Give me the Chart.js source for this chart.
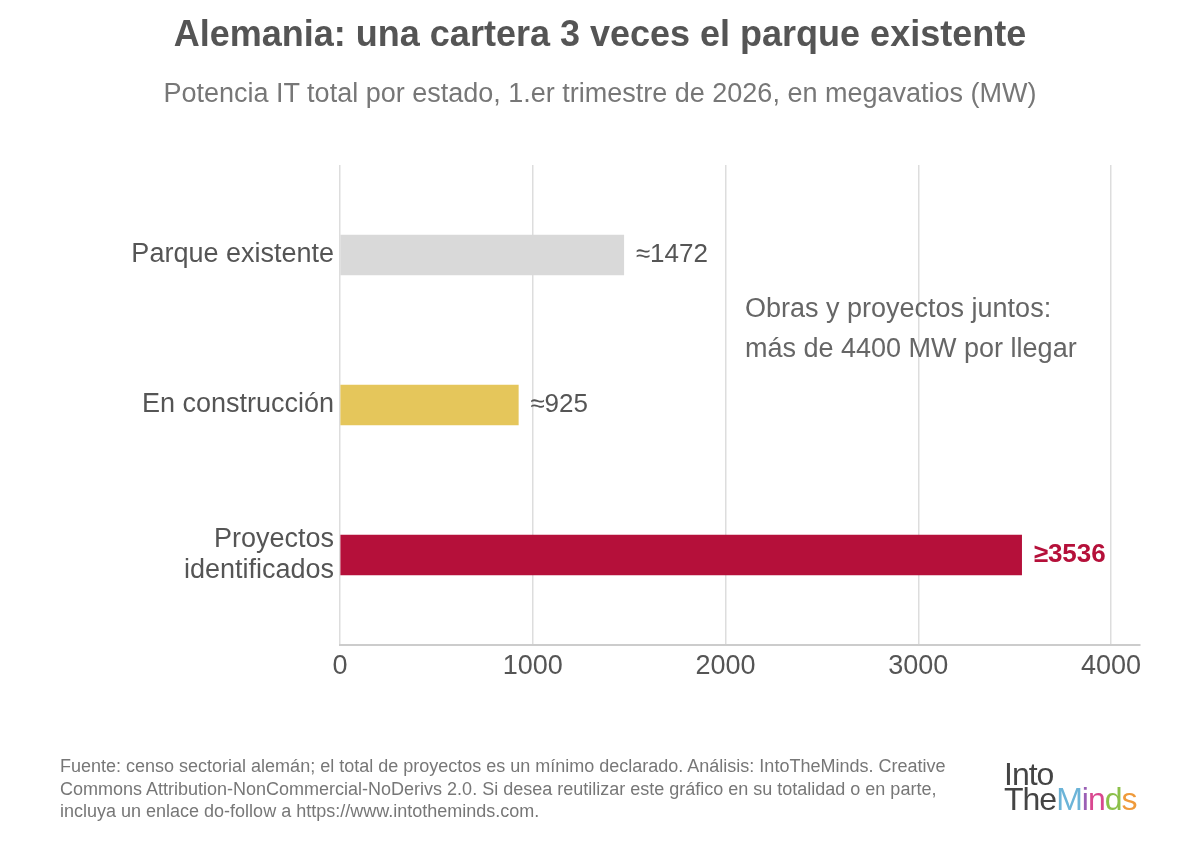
<!DOCTYPE html>
<html lang="es">
<head>
<meta charset="UTF-8">
<title>Alemania: una cartera 3 veces el parque existente</title>
<script src="https://cdn.jsdelivr.net/npm/chart.js@4"></script>
<style>
  body { margin: 0; background: #fff; font-family: "Liberation Sans", Arial, sans-serif; }
  .page { position: relative; width: 1200px; height: 841px; overflow: hidden; }
  .title { position: absolute; top: 13px; left: 0; width: 1200px; text-align: center; font-size: 36px; font-weight: bold; color: #555; }
  .subtitle { position: absolute; top: 78px; left: 0; width: 1200px; text-align: center; font-size: 27px; color: #777; }
  .note { position: absolute; left: 745px; top: 288px; font-size: 27px; line-height: 40px; color: #666; }
  .chart-box { position: absolute; left: 0; top: 0; width: 1200px; height: 841px; }
  .source { position: absolute; left: 60px; top: 755px; width: 895px; font-size: 18px; line-height: 22.5px; color: #777; }
  .logo { position: absolute; left: 1004px; top: 762px; font-size: 32px; line-height: 25px; color: #444; letter-spacing: -1px; }
</style>
</head>
<body>
<div class="page">
  <div class="chart-box"><canvas id="chart"></canvas></div>
  <div class="title">Alemania: una cartera 3 veces el parque existente</div>
  <div class="subtitle">Potencia IT total por estado, 1.er trimestre de 2026, en megavatios (MW)</div>
  <div class="note">Obras y proyectos juntos:<br>más de 4400 MW por llegar</div>
  <div class="source">Fuente: censo sectorial alemán; el total de proyectos es un mínimo declarado. Análisis: IntoTheMinds. Creative Commons Attribution-NonCommercial-NoDerivs 2.0. Si desea reutilizar este gráfico en su totalidad o en parte, incluya un enlace do-follow a https://www.intotheminds.com.</div>
  <div class="logo">Into<br>The<span style="color:#6cb4d8">M</span><span style="color:#9a5fb5">i</span><span style="color:#d9478f">n</span><span style="color:#8cc04a">d</span><span style="color:#ef9a3a">s</span></div>
</div>
<script>
// data
const categories = [["Parque existente"], ["En construcción"], ["Proyectos", "identificados"]];
const values = [1472, 925, 3536];
const prefixes = ["≈", "≈", "≥"];
const barColors = ["#d9d9d9", "#e5c65b", "#b5103a"];
const labelColors = ["#555555", "#555555", "#b5103a"];
const labelBold = [false, false, true];
const xTicks = [0, 1000, 2000, 3000, 4000];

const points = values.map((v, i) => ({ x: v, y: i }));

// value labels next to each bar
const valueLabels = {
  id: 'valueLabels',
  afterDatasetsDraw(chart) {
    const ctx = chart.ctx;
    const meta = chart.getDatasetMeta(0);
    ctx.save();
    meta.data.forEach((bar, i) => {
      ctx.font = (labelBold[i] ? 'bold ' : '') + '26px "Liberation Sans", Arial, sans-serif';
      ctx.fillStyle = labelColors[i];
      ctx.textAlign = 'left';
      ctx.textBaseline = 'middle';
      ctx.fillText(prefixes[i] + values[i], bar.x + 12, bar.y);
    });
    ctx.restore();
  }
};

new Chart(document.getElementById('chart'), {
  type: 'bar',
  data: {
    datasets: [{
      data: points,
      backgroundColor: barColors,
      barThickness: 40,
      borderWidth: 0
    }]
  },
  options: {
    indexAxis: 'y',
    responsive: true,
    maintainAspectRatio: false,
    animation: false,
    layout: { padding: { top: 165, right: 60, bottom: 150, left: 0 } },
    plugins: {
      legend: { display: false },
      tooltip: { enabled: false }
    },
    scales: {
      x: {
        type: 'linear',
        min: 0,
        max: 4150,
        afterBuildTicks(scale) {
          scale.ticks = xTicks.map(v => ({ value: v }));
        },
        afterFit(scale) { scale.height = 46; },
        grid: { color: '#dddddd', lineWidth: 1.5, drawTicks: false },
        border: { color: '#cccccc', width: 2 },
        ticks: {
          color: '#555',
          padding: 5,
          font: { size: 27, family: '"Liberation Sans", Arial, sans-serif' },
          callback: (v) => String(v)
        }
      },
      y: {
        type: 'linear',
        reverse: true,
        offset: false,
        min: -0.6,
        max: 2.6,
        afterBuildTicks(scale) {
          scale.ticks = categories.map((c, i) => ({ value: i }));
        },
        afterFit(scale) { scale.width = 340; },
        grid: { display: false, drawTicks: false },
        border: { display: false },
        ticks: {
          color: '#555',
          padding: 6,
          font: { size: 27, family: '"Liberation Sans", Arial, sans-serif', lineHeight: 1.15 },
          callback: (v) => categories[v]
        }
      }
    }
  },
  plugins: [valueLabels]
});
</script>
</body>
</html>
